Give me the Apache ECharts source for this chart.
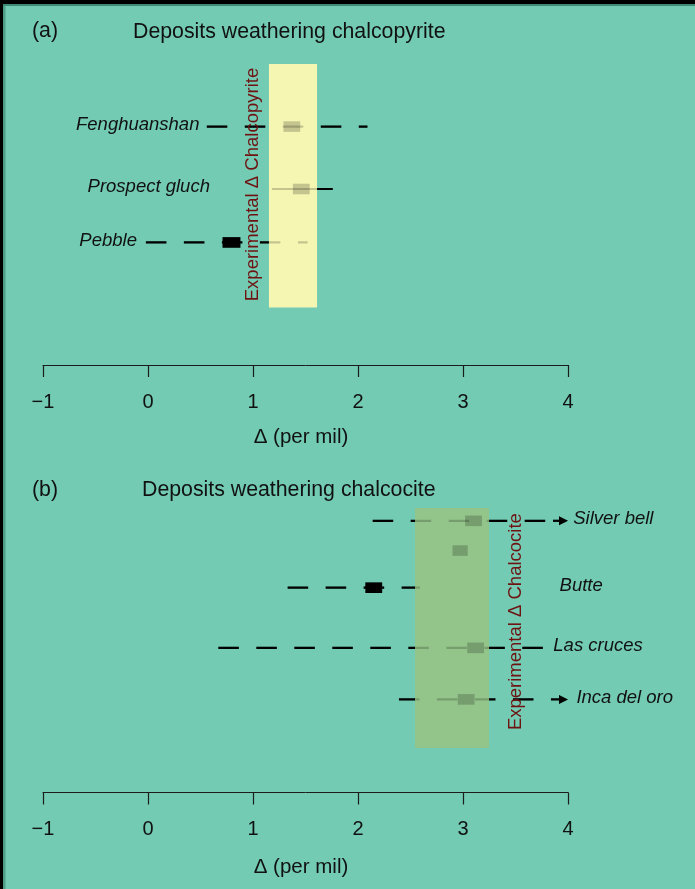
<!DOCTYPE html>
<html>
<head>
<meta charset="utf-8">
<script src="https://cdn.jsdelivr.net/npm/echarts@6/dist/echarts.min.js"></script>
<style>
  html, body { margin: 0; padding: 0; background: #72cbb2; }
  #chart { width: 695px; height: 889px; }
</style>
</head>
<body>
<div id="chart"></div>
<script>
// ---- Panel (a): deposits weathering chalcopyrite ----
const depositsA = ['Fenghuanshan', 'Prospect gluch', 'Pebble'];
const rowA      = [7.45, 5.50, 3.83];      // vertical position of each deposit
const rangeLoA  = [0.56, 1.18, -0.02];     // spread of measured Δ
const rangeHiA  = [2.09, 1.76, 1.52];
const boxLoA    = [1.29, 1.38, 0.71];      // central range
const boxHiA    = [1.45, 1.54, 0.88];
const solidA    = [false, true, false];
const arrowA    = [false, false, false];
const labelXA   = [0.49, 0.59, -0.105];    // label anchor (right edge), per mil
const bandA     = [1.152, 1.61];           // experimental Δ chalcopyrite
const bandRowsA = [1.80, 9.41];
const bandTextA = 'Experimental \u0394 Chalcopyrite';
const bandTextPosA = [0.995, 5.64];

// ---- Panel (b): deposits weathering chalcocite ----
const depositsB = ['Silver bell', '', 'Butte', 'Las cruces', 'Inca del oro'];
const rowB      = [8.49, 7.56, 6.40, 4.52, 2.91];
const rangeLoB  = [2.14, null, 1.33, 0.67, 2.39];
const rangeHiB  = [4.00, null, 2.59, 3.80, 4.00];
const boxLoB    = [3.02, 2.90, 2.07, 3.04, 2.95];
const boxHiB    = [3.18, 3.045, 2.23, 3.20, 3.11];
const solidB    = [false, false, false, false, false];
const arrowB    = [true, false, false, false, true];
const labelXB   = [4.05, null, 3.92, 3.86, 4.08];  // label anchor (left edge), per mil
const bandB     = [2.543, 3.248];          // experimental Δ chalcocite
const bandRowsB = [1.39, 8.89];
const bandTextB = 'Experimental \u0394 Chalcocite';
const bandTextPosB = [3.50, 5.34];

const xMin = -1, xMax = 4, xStep = 1;
const axisTitle = '\u0394 (per mil)';

const FONT = '"Liberation Sans", Arial, Helvetica, sans-serif';
const BG = '#72cbb2';
const INK = '#000000';
const AXIS = '#1c1c1c';
const BAND_TEXT = '#6e1212';

const panels = [
  { names: depositsA, row: rowA, lo: rangeLoA, hi: rangeHiA, blo: boxLoA, bhi: boxHiA,
    solid: solidA, arrow: arrowA, labelX: labelXA, labelAlign: 'right',
    band: bandA, bandRows: bandRowsA, bandColor: '#f6f6b3', bandText: bandTextA, bandTextPos: bandTextPosA },
  { names: depositsB, row: rowB, lo: rangeLoB, hi: rangeHiB, blo: boxLoB, bhi: boxHiB,
    solid: solidB, arrow: arrowB, labelX: labelXB, labelAlign: 'left',
    band: bandB, bandRows: bandRowsB, bandColor: '#93c58a', bandText: bandTextB, bandTextPos: bandTextPosB }
];

// Draws each deposit: dashed (or solid) spread line, filled box, optional arrow.
function rowRenderer(panel, opacity) {
  return function (params, api) {
    const i = params.dataIndex;
    const y = api.coord([0, panel.row[i]])[1];
    const kids = [];
    const lo = panel.lo[i], hi = panel.hi[i];
    if (lo !== null && hi !== null) {
      const x1 = api.coord([lo, panel.row[i]])[0];
      const x2 = api.coord([hi, panel.row[i]])[0];
      const end = panel.arrow[i] ? x2 - 15 : x2;
      kids.push({
        type: 'line',
        shape: { x1: x1, y1: y, x2: end, y2: y },
        style: { stroke: INK, lineWidth: 2.2, lineCap: 'butt',
                 lineDash: panel.solid[i] ? null : [20.5, 17.5], opacity: opacity }
      });
      if (panel.arrow[i]) {
        kids.push({
          type: 'line',
          shape: { x1: x2 - 15, y1: y, x2: x2 - 7, y2: y },
          style: { stroke: INK, lineWidth: 2.2, opacity: opacity }
        });
        kids.push({
          type: 'polygon',
          shape: { points: [[x2, y], [x2 - 9, y - 4.5], [x2 - 9, y + 4.5]] },
          style: { fill: INK, opacity: opacity }
        });
      }
    }
    const b1 = api.coord([panel.blo[i], panel.row[i]])[0];
    const b2 = api.coord([panel.bhi[i], panel.row[i]])[0];
    kids.push({
      type: 'rect',
      shape: { x: b1, y: y - 5.3, width: b2 - b1, height: 10.6 },
      style: { fill: INK, opacity: opacity }
    });
    return { type: 'group', children: kids };
  };
}

function bandRenderer(panel) {
  return function (params, api) {
    const p1 = api.coord([panel.band[0], panel.bandRows[1]]);
    const p2 = api.coord([panel.band[1], panel.bandRows[0]]);
    return {
      type: 'rect',
      shape: { x: p1[0], y: p1[1], width: p2[0] - p1[0], height: p2[1] - p1[1] },
      style: { fill: panel.bandColor }
    };
  };
}

function textRenderer(panel) {
  return function (params, api) {
    const kids = [];
    const tp = api.coord(panel.bandTextPos);
    kids.push({
      type: 'text', x: tp[0], y: tp[1], rotation: Math.PI / 2,
      style: { text: panel.bandText, fill: BAND_TEXT, font: '18.5px ' + FONT,
               align: 'center', verticalAlign: 'middle' }
    });
    panel.names.forEach(function (name, i) {
      if (!name || panel.labelX[i] === null) return;
      const pt = api.coord([panel.labelX[i], panel.row[i]]);
      kids.push({
        type: 'text', x: pt[0], y: pt[1] - 2,
        style: { text: name, fill: '#111111', font: 'italic 18.5px ' + FONT,
                 align: panel.labelAlign, verticalAlign: 'middle' }
      });
    });
    return { type: 'group', children: kids };
  };
}

function xAxisFor(gridIndex, margin, nameGap) {
  return {
    gridIndex: gridIndex, type: 'value', min: xMin, max: xMax, interval: xStep,
    axisLine: { show: true, onZero: false, lineStyle: { color: AXIS, width: 1 } },
    axisTick: { show: true, inside: false, length: 12, lineStyle: { color: AXIS, width: 1.2 } },
    axisLabel: { margin: margin, fontSize: 20, color: '#111111', fontFamily: FONT,
                 formatter: function (v) { return v < 0 ? '\u2212' + Math.abs(v) : String(v); } },
    splitLine: { show: false },
    name: axisTitle, nameLocation: 'middle', nameGap: nameGap,
    nameTextStyle: { fontSize: 20.5, color: '#111111', fontFamily: FONT, padding: [0, 9, 0, 0] }
  };
}

const series = [];
panels.forEach(function (panel, k) {
  const data = panel.row.map(function (r, i) { return [panel.blo[i], r]; });
  series.push({ type: 'custom', xAxisIndex: k, yAxisIndex: k, z: 2, silent: true,
                renderItem: rowRenderer(panel, 1), data: data, clip: false });
  series.push({ type: 'custom', xAxisIndex: k, yAxisIndex: k, z: 3, silent: true,
                renderItem: bandRenderer(panel), data: [[panel.band[0], panel.bandRows[0]]], clip: false });
  series.push({ type: 'custom', xAxisIndex: k, yAxisIndex: k, z: 4, silent: true,
                renderItem: rowRenderer(panel, 0.2), data: data, clip: false });
  series.push({ type: 'custom', xAxisIndex: k, yAxisIndex: k, z: 5, silent: true,
                renderItem: textRenderer(panel), data: [[panel.bandTextPos[0], panel.bandTextPos[1]]], clip: false });
});

const chart = echarts.init(document.getElementById('chart'), null, { renderer: 'canvas' });
chart.setOption({
  backgroundColor: BG,
  animation: false,
  grid: [
    { left: 43, right: 127, top: 45, bottom: 524, outerBoundsMode: 'none' },
    { left: 43, right: 127, top: 472.5, bottom: 96.5, outerBoundsMode: 'none' }
  ],
  xAxis: [xAxisFor(0, 27, 62), xAxisFor(1, 27, 64)],
  yAxis: [
    { gridIndex: 0, type: 'value', min: 0, max: 10, show: false },
    { gridIndex: 1, type: 'value', min: 0, max: 10, show: false }
  ],
  graphic: [
    { type: 'rect', shape: { x: 0, y: 0, width: 695, height: 4 }, style: { fill: '#000' } },
    { type: 'rect', shape: { x: 0, y: 4, width: 695, height: 2 }, style: { fill: '#3f8a74' } },
    { type: 'rect', shape: { x: 0, y: 0, width: 3, height: 889 }, style: { fill: '#000' } },
    { type: 'rect', shape: { x: 3, y: 6, width: 2.5, height: 883 }, style: { fill: '#4f9f88' } },
    { type: 'text', x: 32, y: 31, style: { text: '(a)', font: '21.3px ' + FONT, fill: '#111', verticalAlign: 'middle' } },
    { type: 'text', x: 133, y: 32, style: { text: 'Deposits weathering chalcopyrite', font: '21.3px ' + FONT, fill: '#111', verticalAlign: 'middle' } },
    { type: 'text', x: 32, y: 490, style: { text: '(b)', font: '21.3px ' + FONT, fill: '#111', verticalAlign: 'middle' } },
    { type: 'text', x: 142, y: 490, style: { text: 'Deposits weathering chalcocite', font: '21.3px ' + FONT, fill: '#111', verticalAlign: 'middle' } }
  ],
  series: series
});
</script>
</body>
</html>
